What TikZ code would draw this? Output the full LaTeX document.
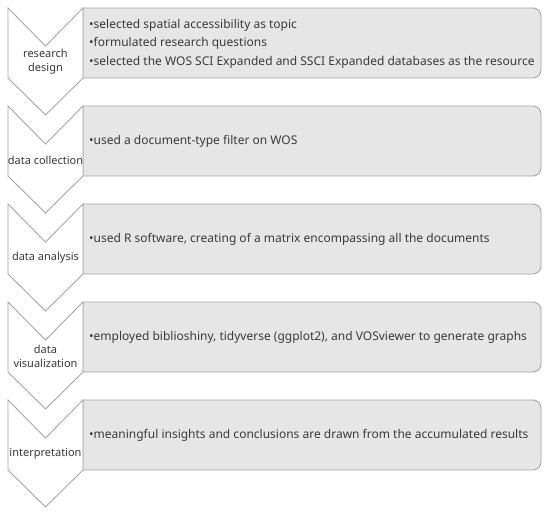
\documentclass[tikz,border=0pt]{standalone}
\usepackage{fontspec}
\setmainfont{Noto Sans}
\definecolor{edgegray}{HTML}{A6A6A6}
\definecolor{boxfill}{HTML}{E6E6E6}
\definecolor{txtgray}{HTML}{3A3A3A}
\tikzset{
  chev/.style={draw=edgegray, fill=white, line width=0.9pt, line join=miter},
  stagebox/.style={draw=edgegray, fill=boxfill, line width=0.9pt},
  chevlabel/.style={text=txtgray, font=\fontsize{11}{14}\selectfont, align=center, inner sep=0pt},
  boxtext/.style={text=txtgray, font=\fontsize{12}{18.5}\selectfont, align=left, anchor=west, inner sep=0pt},
}
\newcommand{\stage}[4]{% #1 top, #2 name, #3 label, #4 text
  \draw[stagebox] (83,#1) -- (533,#1) arc[start angle=-90,end angle=0,radius=8] -- (541,#1+62) arc[start angle=0,end angle=90,radius=8] -- (83,#1+70) -- cycle;
  \draw[chev] (8,#1) -- (45.5,#1+38) -- (83,#1) -- (83,#1+70) -- (45.5,#1+107) -- (8,#1+70) -- cycle;
  \node[chevlabel] (#2l) at (45.5,#1+54) {#3};
  \node[boxtext] (#2t) at (89,#1+35.5) {#4};
}
\begin{document}
\begin{tikzpicture}[x=1pt,y=-1pt]
\useasboundingbox (0,0) rectangle (550,515);
\stage{8}{s1}{research\\design}{•selected spatial accessibility as topic\\•formulated research questions\\•selected the WOS SCI Expanded and SSCI Expanded databases as the resource}
\stage{106}{s2}{data collection}{•used a document-type filter on WOS}
\stage{204}{s3}{data analysis}{•used R software, creating of a matrix encompassing all the documents}
\stage{302}{s4}{data\\visualization}{•employed biblioshiny, tidyverse (ggplot2), and VOSviewer to generate graphs}
\stage{400}{s5}{interpretation}{•meaningful insights and conclusions are drawn from the accumulated results}
\end{tikzpicture}
\end{document}
